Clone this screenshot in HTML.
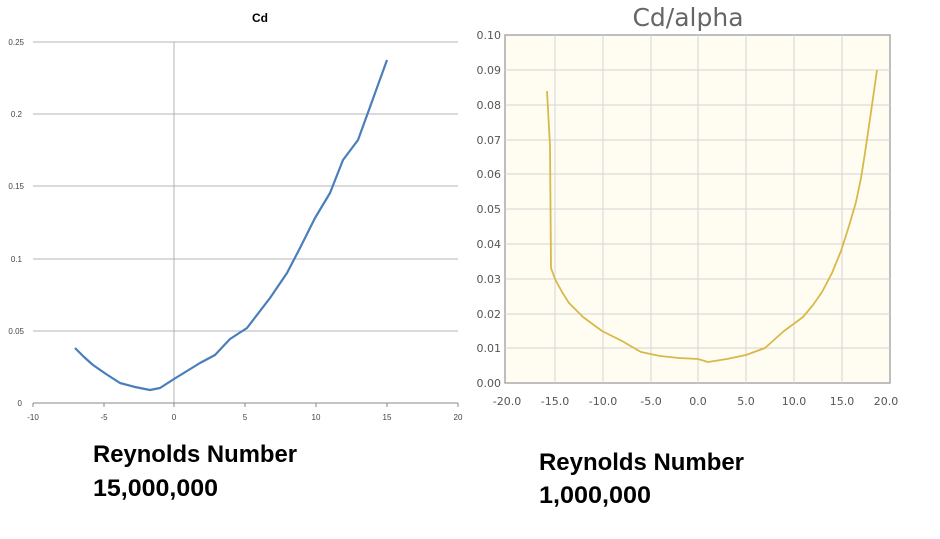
<!DOCTYPE html>
<html><head><style>body{margin:0;background:#fff}</style></head><body>
<svg width="940" height="539" xmlns="http://www.w3.org/2000/svg" style="display:block">
<rect width="940" height="539" fill="#fff"/>
<!-- Left chart -->
<text x="260" y="22" font-family="Liberation Sans, sans-serif" font-size="12" font-weight="bold" text-anchor="middle">Cd</text>
<g stroke="#b4b4b4" stroke-width="1">
<line x1="33" y1="42" x2="458" y2="42"/><line x1="33" y1="114" x2="458" y2="114"/><line x1="33" y1="186" x2="458" y2="186"/><line x1="33" y1="259" x2="458" y2="259"/><line x1="33" y1="331" x2="458" y2="331"/>
<line x1="174" y1="42" x2="174" y2="403"/>
<line x1="33" y1="403" x2="458" y2="403" stroke="#888"/>
<line x1="33" y1="403" x2="33" y2="407" stroke="#888"/><line x1="104" y1="403" x2="104" y2="407" stroke="#888"/><line x1="174" y1="403" x2="174" y2="407" stroke="#888"/><line x1="245" y1="403" x2="245" y2="407" stroke="#888"/><line x1="316" y1="403" x2="316" y2="407" stroke="#888"/><line x1="387" y1="403" x2="387" y2="407" stroke="#888"/><line x1="458" y1="403" x2="458" y2="407" stroke="#888"/>
</g>
<g font-family="Liberation Sans, sans-serif" font-size="8" fill="#444">
<text x="24" y="45" text-anchor="end">0.25</text><text x="22" y="117" text-anchor="end">0.2</text><text x="24" y="189" text-anchor="end">0.15</text><text x="22" y="262" text-anchor="end">0.1</text><text x="24" y="334" text-anchor="end">0.05</text><text x="22" y="406" text-anchor="end">0</text>
<g text-anchor="middle"><text x="33" y="420">-10</text><text x="104" y="420">-5</text><text x="174" y="420">0</text><text x="245" y="420">5</text><text x="316" y="420">10</text><text x="387" y="420">15</text><text x="458" y="420">20</text></g>
</g>
<polyline fill="none" stroke="#4a7ebb" stroke-width="2.2" stroke-linejoin="round" points="75,348 84,357 93,365 106,374 120,383 135,387 150,390 160,388 174,379 200,363 215,355 230,339 247,328 270,298 287,273 300,248 315,218 330,193 343,160 358,140 370,107 387,60"/>
<!-- Right chart -->
<text x="688" y="26" font-family="DejaVu Sans, sans-serif" font-size="25" fill="#666" text-anchor="middle">Cd/alpha</text>
<rect x="505" y="35" width="385" height="348" fill="#fffdf2" stroke="#aaa" stroke-width="1.5"/>
<g stroke="#d4d4d4" stroke-width="1">
<line x1="555" y1="35" x2="555" y2="383"/><line x1="603" y1="35" x2="603" y2="383"/><line x1="651" y1="35" x2="651" y2="383"/><line x1="698" y1="35" x2="698" y2="383"/><line x1="746" y1="35" x2="746" y2="383"/><line x1="794" y1="35" x2="794" y2="383"/><line x1="842" y1="35" x2="842" y2="383"/>
<line x1="505" y1="70" x2="890" y2="70"/><line x1="505" y1="105" x2="890" y2="105"/><line x1="505" y1="140" x2="890" y2="140"/><line x1="505" y1="174" x2="890" y2="174"/><line x1="505" y1="209" x2="890" y2="209"/><line x1="505" y1="244" x2="890" y2="244"/><line x1="505" y1="279" x2="890" y2="279"/><line x1="505" y1="314" x2="890" y2="314"/><line x1="505" y1="348" x2="890" y2="348"/>
</g>
<g font-family="DejaVu Sans, sans-serif" font-size="11" fill="#555">
<g text-anchor="end"><text x="501" y="39">0.10</text><text x="501" y="74">0.09</text><text x="501" y="109">0.08</text><text x="501" y="144">0.07</text><text x="501" y="178">0.06</text><text x="501" y="213">0.05</text><text x="501" y="248">0.04</text><text x="501" y="283">0.03</text><text x="501" y="318">0.02</text><text x="501" y="352">0.01</text><text x="501" y="387">0.00</text></g>
<g text-anchor="middle"><text x="507" y="405">-20.0</text><text x="555" y="405">-15.0</text><text x="603" y="405">-10.0</text><text x="651" y="405">-5.0</text><text x="698" y="405">0.0</text><text x="746" y="405">5.0</text><text x="794" y="405">10.0</text><text x="842" y="405">15.0</text><text x="886" y="405">20.0</text></g>
</g>
<polyline fill="none" stroke="#d9b84a" stroke-width="1.8" stroke-linejoin="round" points="547,91 550,146 551,268 555,279 562,292 569,303 583,317 602,331 622,341 641,352 660,356 679,358 698,359 708,362 727,359 746,355 765,348 784,331 803,317 813,305 822,292 832,273 841,251 849,226 856,202 861,178 865,153 871,112 877,70"/>
<!-- Captions -->
<g font-family="Liberation Sans, sans-serif" font-size="24" font-weight="bold" fill="#000">
<text x="93" y="462" textLength="204" lengthAdjust="spacingAndGlyphs">Reynolds Number</text><text x="93" y="496" textLength="125" lengthAdjust="spacingAndGlyphs">15,000,000</text>
<text x="539" y="470" textLength="205" lengthAdjust="spacingAndGlyphs">Reynolds Number</text><text x="539" y="503" textLength="112" lengthAdjust="spacingAndGlyphs">1,000,000</text>
</g>
</svg>
</body></html>
